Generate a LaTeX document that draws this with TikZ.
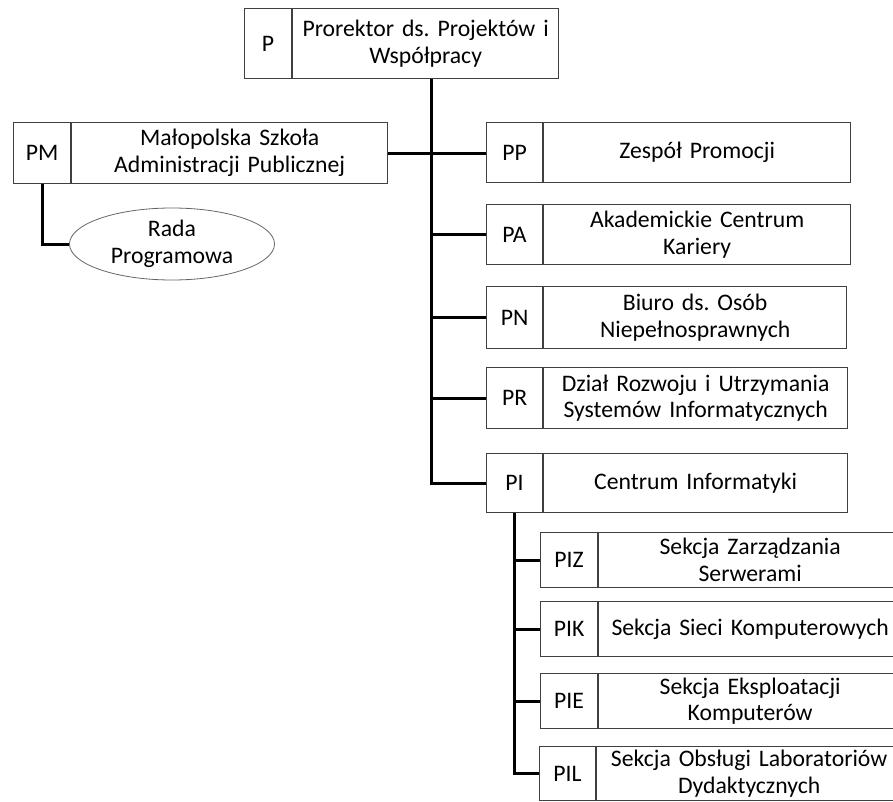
\documentclass[tikz,border=0pt]{standalone}
\usepackage{fontspec}
\setmainfont{Carlito}
\usetikzlibrary{positioning,shapes.geometric}

\begin{document}
\begin{tikzpicture}[x=1pt,y=-1pt,
  kod/.style={draw=black!75,line width=1.1pt,inner sep=0pt,anchor=north west,font=\fontsize{23.7}{26.5}\selectfont\frenchspacing},
  nazwa/.style={draw=black!75,line width=1.1pt,inner sep=0pt,align=center,font=\fontsize{23.7}{26.5}\selectfont\frenchspacing},
  linia/.style={line width=3pt}]
\useasboundingbox (0,0) rectangle (893,802);
\clip (0,0) rectangle (893,802);

%Prorektor
\node[kod,minimum width=47pt,minimum height=70pt] (Pc) at (244,8) {P};
\node[nazwa,minimum width=266pt,minimum height=70pt,text width=260pt,right=0pt of Pc] (Pn) {Prorektor ds. Projektów i\\Współpracy};

%Szkoła i rada
\node[kod,minimum width=57pt,minimum height=61pt] (PMc) at (13,122) {PM};
\node[nazwa,minimum width=316pt,minimum height=61pt,text width=306pt,right=0pt of PMc] (PMn) {Małopolska Szkoła\\Administracji Publicznej};
\node[ellipse,draw=black!60,line width=0.8pt,inner sep=0pt,minimum width=205pt,minimum height=72pt,align=center,font=\fontsize{23.7}{27.5}\selectfont] (RP) at (172,244) {Rada\\Programowa};

%Jednostki
\node[kod,minimum width=56pt,minimum height=60pt] (PPc) at (486,122) {PP};
\node[nazwa,minimum width=307pt,minimum height=60pt,text width=297pt,right=0pt of PPc] (PPn) {Zespół Promocji};
\node[kod,minimum width=56pt,minimum height=60pt] (PAc) at (486,204) {PA};
\node[nazwa,minimum width=307pt,minimum height=60pt,text width=297pt,right=0pt of PAc] (PAn) {Akademickie Centrum\\Kariery};
\node[kod,minimum width=56pt,minimum height=62pt] (PNc) at (486,286) {PN};
\node[nazwa,minimum width=303pt,minimum height=62pt,text width=293pt,right=0pt of PNc] (PNn) {Biuro ds. Osób\\Niepełnosprawnych};
\node[kod,minimum width=56pt,minimum height=61pt] (PRc) at (486,367) {PR};
\node[nazwa,minimum width=304pt,minimum height=61pt,text width=298pt,right=0pt of PRc] (PRn) {Dział Rozwoju i Utrzymania\\Systemów Informatycznych};
\node[kod,minimum width=56pt,minimum height=59pt] (PIc) at (486,453) {PI};
\node[nazwa,minimum width=304pt,minimum height=59pt,text width=294pt,right=0pt of PIc] (PIn) {Centrum Informatyki};

%Sekcje
\node[kod,minimum width=57pt,minimum height=55pt] (PIZc) at (540,532) {PIZ};
\node[nazwa,minimum width=303pt,minimum height=55pt,text width=297pt,right=0pt of PIZc] (PIZn) {Sekcja Zarządzania\\Serwerami};
\node[kod,minimum width=57pt,minimum height=55pt] (PIKc) at (540,601) {PIK};
\node[nazwa,minimum width=303pt,minimum height=55pt,text width=297pt,right=0pt of PIKc] (PIKn) {Sekcja Sieci Komputerowych};
\node[kod,minimum width=57pt,minimum height=55pt] (PIEc) at (540,673) {PIE};
\node[nazwa,minimum width=303pt,minimum height=55pt,text width=297pt,right=0pt of PIEc] (PIEn) {Sekcja Eksploatacji\\Komputerów};
\node[kod,minimum width=56pt,minimum height=54pt] (PILc) at (539,746) {PIL};
\node[nazwa,minimum width=305pt,minimum height=54pt,text width=299pt,right=0pt of PILc] (PILn) {Sekcja Obsługi Laboratoriów\\Dydaktycznych};

%Połączenia
\coordinate (pien) at ([xshift=6pt]Pn.south);
\draw[linia] (pien) |- (PIc.west);
\draw[linia] (PMn.east) -- (PMn.east -| PPc.west);
\draw[linia] (pien |- PAc.west) -- (PAc.west);
\draw[linia] (pien |- PNc.west) -- (PNc.west);
\draw[linia] (pien |- PRc.west) -- (PRc.west);
\draw[linia] (PMc.south) |- (RP.west);
\draw[linia] (PIc.south) |- (PILc.west);
\draw[linia] (PIc.south |- PIZc.west) -- (PIZc.west);
\draw[linia] (PIc.south |- PIKc.west) -- (PIKc.west);
\draw[linia] (PIc.south |- PIEc.west) -- (PIEc.west);

\end{tikzpicture}
\end{document}
